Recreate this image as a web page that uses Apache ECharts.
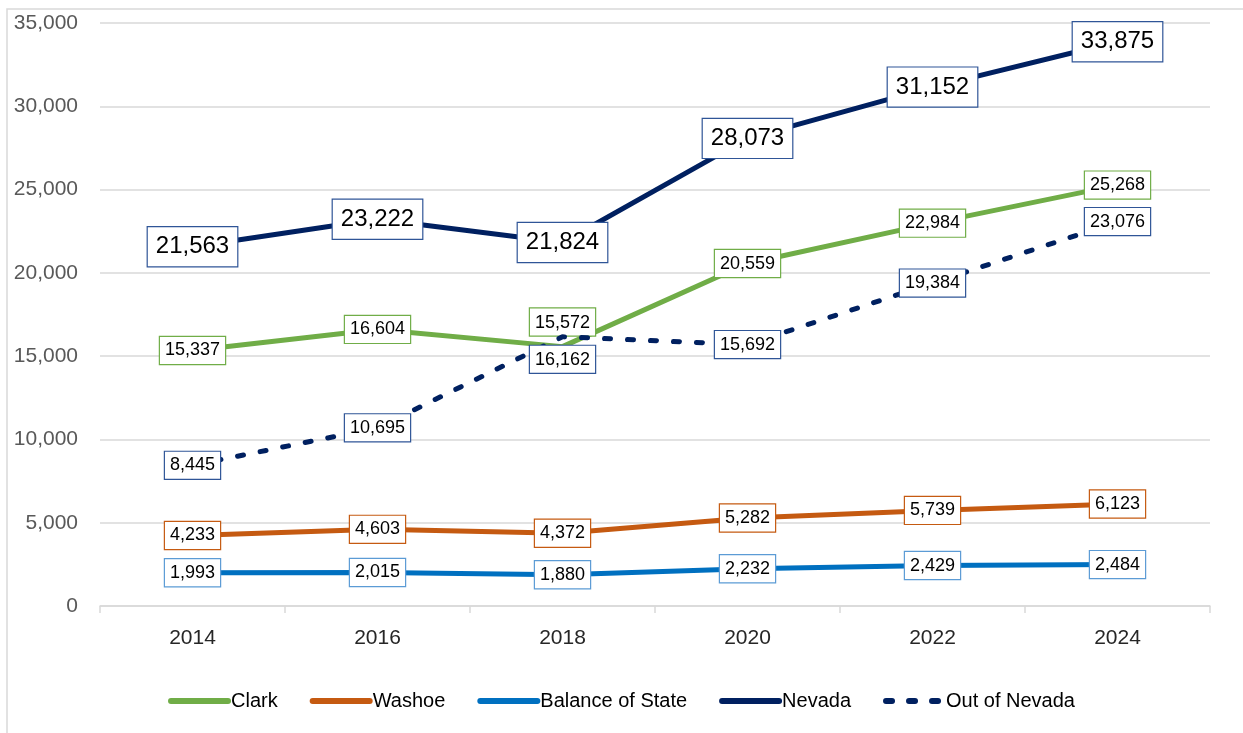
<!DOCTYPE html>
<html><head><meta charset="utf-8">
<script src="https://cdn.jsdelivr.net/npm/echarts@6/dist/echarts.min.js"></script>
<style>html,body{margin:0;padding:0;background:#fff}#c{width:1243px;height:733px}</style>
</head><body><div id="c"></div>
<script>
const years = ['2014','2016','2018','2020','2022','2024'];
const clark = [15337,16604,15572,20559,22984,25268];
const washoe = [4233,4603,4372,5282,5739,6123];
const balance = [1993,2015,1880,2232,2429,2484];
const nevada = [21563,23222,21824,28073,31152,33875];
const outNevada = [8445,10695,16162,15692,19384,23076];
const yTicks = [0,5000,10000,15000,20000,25000,30000,35000];

const FONT = 'Liberation Sans';
const fmt = v => v.toLocaleString('en-US');

function lbl(border, size, pad){
  return {
    show:true, position:'inside', fontFamily:FONT, fontSize:size, color:'#000',
    backgroundColor:'#fff', borderColor:border, borderWidth:1.2, padding:pad,
    formatter:p=>fmt(p.value)
  };
}
function mkData(arr, overrides){
  return arr.map((v,i)=>{
    const o = {value:v};
    if (overrides && overrides[i]) o.label = overrides[i];
    return o;
  });
}
function series(name, arr, color, border, size, pad, dashed, overrides){
  return {
    name, type:'line', data:mkData(arr, overrides), symbol:'circle', symbolSize:0.1, showSymbol:true,
    lineStyle:{color, width:5, type: dashed?[6,17]:'solid', cap:'round'},
    itemStyle:{color},
    label:lbl(border,size,pad),
    labelLayout:{hideOverlap:false},
    z: dashed?3:2
  };
}
const SP = [5,5,4,5], NP = [8,8,7,8];
const chart = echarts.init(document.getElementById('c'));
chart.setOption({
  animation:false,
  backgroundColor:'#fff',
  graphic:[{type:'rect', shape:{x:7,y:9,width:1300,height:800}, style:{fill:'none', stroke:'#d9d9d9', lineWidth:1.5}, silent:true}],
  grid:{left:100,right:33,top:23,bottom:127},
  legend:{
    top:686, left:'center', itemGap:32, itemWidth:57, itemHeight:14,
    textStyle:{fontFamily:FONT, fontSize:20, color:'#000', padding:[0,0,0,-2]},
    itemStyle:{opacity:0},
    lineStyle:{width:6, cap:'round'},
    data:['Clark','Washoe','Balance of State','Nevada','Out of Nevada']
  },
  xAxis:{
    type:'category', data:years, boundaryGap:true,
    axisLine:{lineStyle:{color:'#d9d9d9', width:1.5}},
    axisTick:{show:true, inside:false, length:7, alignWithLabel:false, lineStyle:{color:'#d9d9d9', width:1.5}},
    axisLabel:{fontFamily:FONT, fontSize:21, color:'#262626', margin:22}
  },
  yAxis:{
    type:'value', min:0, max:35000, interval:5000,
    axisLabel:{fontFamily:FONT, fontSize:21, color:'#595959', margin:22, formatter:v=>fmt(v)},
    splitLine:{lineStyle:{color:'#d9d9d9', width:1.5}},
    axisLine:{show:false}, axisTick:{show:false}
  },
  series:[
    series('Clark', clark, '#70AD47', '#70AD47', 18, SP, false, {2:{position:'top', distance:11, offset:[4,0]}}),
    series('Washoe', washoe, '#C55A11', '#C55A11', 18, SP, false),
    series('Balance of State', balance, '#0070C0', '#5B9BD5', 18, SP, false),
    series('Nevada', nevada, '#002060', '#2F5597', 24, NP, false),
    series('Out of Nevada', outNevada, '#002060', '#2F5597', 18, SP, true, {2:{position:'bottom', distance:9, offset:[8,0]}})
  ]
});
</script></body></html>
